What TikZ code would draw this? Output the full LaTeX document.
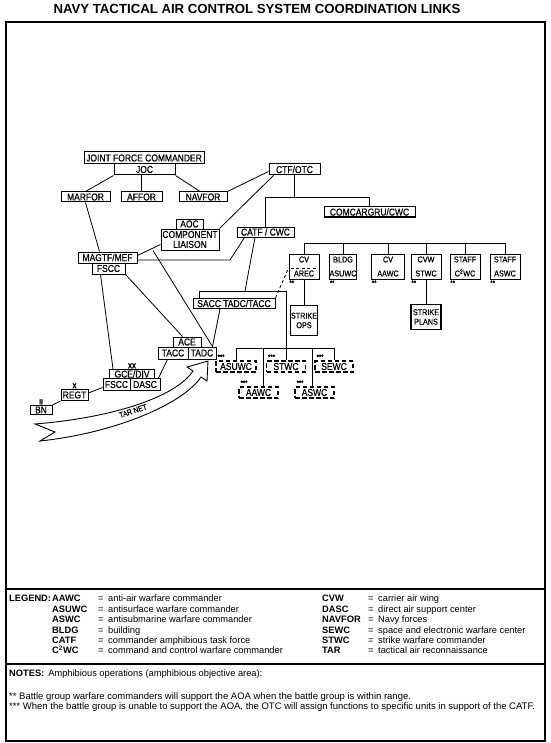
\documentclass[tikz,border=0pt]{standalone}
\usepackage{fontspec}
\setmainfont{Liberation Sans}
\newfontfamily\boxfont[FakeStretch=0.85,FakeBold=0.6]{Liberation Sans}
\usetikzlibrary{positioning}
\newcommand*{\legrow}[3][46pt]{\makebox[#1][l]{\bfseries #2}\makebox[10pt][l]{=}#3}

\begin{document}
\begin{tikzpicture}[x=1pt,y=-1pt,%
  % common options for the unit boxes:
  unitbox/.style = {draw, line width=1pt, fill=white, inner sep=0, align=center,
              font=\boxfont\fontsize{10}{10}\selectfont},
  % two-line boxes of the battle group:
  bgbox/.style = {unitbox, minimum width=30pt, minimum height=25pt,
              font=\boxfont\fontsize{8.5}{12}\selectfont},
  % units assigned only when the battle group cannot support:
  tempbox/.style = {unitbox, dash pattern=on 4.5pt off 2.5pt, line width=1.2pt,
              minimum height=11pt},
  link/.style = {line width=0.8pt},
  outerframe/.style = {line width=1.2pt},
  starmark/.style = {inner sep=0, font=\boxfont\fontsize{7}{7}\selectfont},
  echelon/.style = {inner sep=0.5pt, font=\boxfont\bfseries\fontsize{7}{7}\selectfont},
  legendtext/.style = {inner sep=0, align=left, font=\fontsize{9.3}{10.4}\selectfont}]

\useasboundingbox (0,0) rectangle (550,743);

% title and the frame round diagram, legend and notes
\node[font=\bfseries\fontsize{13.2}{15}\selectfont] (title) at (257,9)
  {NAVY TACTICAL AIR CONTROL SYSTEM COORDINATION LINKS};
\draw[outerframe] (6,22) rectangle (545,741);
\draw[outerframe] (6,589) -- (545,589);
\draw[outerframe] (6,664) -- (545,664);

% joint force level
\node[unitbox,minimum width=120pt,minimum height=12pt] (jfc) at (144,158) {JOINT FORCE COMMANDER};
\node[unitbox,minimum width=61pt,minimum height=11pt] (joc) at (144.5,169.5) {JOC};
\node[unitbox,minimum width=49pt,minimum height=10pt] (marfor) at (85.5,197) {MARFOR};
\node[unitbox,minimum width=41pt,minimum height=10pt] (affor) at (141.5,197) {AFFOR};
\node[unitbox,minimum width=48pt,minimum height=10pt] (navfor) at (203,197) {NAVFOR};

% navy side
\node[unitbox,minimum width=51pt,minimum height=11pt] (ctf) at (294.5,169.5) {CTF/OTC};
\node[unitbox,minimum width=91pt,minimum height=10pt] (comcar) at (369.5,212) {COMCARGRU/CWC};
\node[unitbox,minimum width=57pt,minimum height=10pt] (catf) at (265.5,232) {CATF / CWC};
\node[unitbox,minimum width=27pt,minimum height=10pt] (aoc) at (189.5,224) {AOC};
\node[unitbox,minimum width=58pt,minimum height=21pt] (liaison) at (190,239.5) {COMPONENT\\LIAISON};

% marine side
\node[unitbox,minimum width=59pt,minimum height=11pt] (magtf) at (107.5,257.5) {MAGTF/MEF};
\node[unitbox,minimum width=33pt,minimum height=11pt] (fscca) at (108.5,268.5) {FSCC};
\node[unitbox,minimum width=82pt,minimum height=10pt] (sacc) at (234,303.5) {SACC TADC/TACC};
\node[unitbox,minimum width=28pt,minimum height=10pt] (ace) at (187,342) {ACE};
\node[unitbox,minimum width=30pt,minimum height=12pt] (tacc) at (173,353) {TACC};
\node[unitbox,minimum width=28pt,minimum height=12pt] (tadc) at (202,353) {TADC};
\node[unitbox,minimum width=45pt,minimum height=9pt] (gce) at (132,374) {GCE/DIV};
\node[unitbox,minimum width=27pt,minimum height=12pt] (fsccb) at (116.5,384.5) {FSCC};
\node[unitbox,minimum width=30pt,minimum height=12pt] (dasc) at (145,384.5) {DASC};
\node[unitbox,minimum width=27pt,minimum height=11pt] (regt) at (74.5,395) {REGT};
\node[unitbox,minimum width=22pt,minimum height=9pt] (bn) at (41,410) {BN};
\node[echelon,above=0pt of gce] (gcemark) {XX};
\node[echelon,above=0pt of regt] (regtmark) {X};
\node[echelon,above=0pt of bn] (bnmark) {II};

% battle group warfare commanders
\node[bgbox] (cvarec) at (304,266.5) {CV\\[2pt]AREC};
\node[bgbox,minimum width=27pt] (bldg) at (343,266.5) {BLDG\\[2pt]ASUWC};
\node[bgbox,minimum width=33pt] (cvaawc) at (388,266.5) {CV\\[2pt]AAWC};
\node[bgbox] (cvw) at (426,266.5) {CVW\\[2pt]STWC};
\node[bgbox] (staffc) at (465,266.5) {STAFF\\[2pt]C\textsuperscript{2}WC};
\node[bgbox] (staffa) at (505,266.5) {STAFF\\[2pt]ASWC};
\node[bgbox,minimum width=27pt,minimum height=30pt,line width=1.3pt,
  font=\boxfont\fontsize{8.5}{9.5}\selectfont] (strikeops) at (304,320.5) {STRIKE\\OPS};
\node[bgbox,minimum width=30pt,minimum height=25pt,line width=1.3pt,
  font=\boxfont\fontsize{8.5}{9.5}\selectfont] (strikeplans) at (426,317) {STRIKE\\PLANS};
\node[starmark,below right=1pt of cvarec.south west] (s1) {**};
\node[starmark,below right=1pt of bldg.south west] (s2) {**};
\node[starmark,below right=1pt of cvaawc.south west] (s3) {**};
\node[starmark,below right=1pt of cvw.south west] (s4) {**};
\node[starmark,below right=1pt of staffc.south west] (s5) {**};
\node[starmark,below right=1pt of staffa.south west] (s6) {**};

% units assigned by the OTC
\node[tempbox,minimum width=40pt] (asuwc) at (236,366.5) {ASUWC};
\node[tempbox,minimum width=39pt] (stwc) at (286,366.5) {STWC};
\node[tempbox,minimum width=38pt] (sewc) at (334,366.5) {SEWC};
\node[tempbox,minimum width=39pt] (aawc) at (258.5,392.5) {AAWC};
\node[tempbox,minimum width=39pt] (aswc) at (314.5,392.5) {ASWC};
\node[starmark,above right=1pt and 2pt of asuwc.north west] (t1) {***};
\node[starmark,above right=1pt and 2pt of stwc.north west] (t2) {***};
\node[starmark,above right=1pt and 2pt of sewc.north west] (t3) {***};
\node[starmark,above right=1pt and 2pt of aawc.north west] (t4) {***};
\node[starmark,above right=1pt and 2pt of aswc.north west] (t5) {***};

% joint force links
\draw[link] (joc.south west) -- (marfor.north);
\draw[link] (joc.south -| affor.north) -- (affor.north);
\draw[link] (joc.south east) -- ([xshift=-3pt]navfor.north);
\draw[link] (navfor.north east) -- ([yshift=-2pt]ctf.west);
\draw[link] ([xshift=5pt]ctf.south west) -- (liaison.north east);

% CTF/OTC down to CATF and COMCARGRU
\coordinate (tbus) at (294.5,197);
\draw[link] (ctf.south) -- (tbus);
\draw[link] (catf.north) -- (catf.north |- tbus) -- (comcar.north |- tbus) -- (comcar.north);

% battle group bus
\coordinate (cvbus) at (305,243);
\draw[link] (cvarec.north |- cvbus) -- (staffa.north |- cvbus);
\draw[link] (cvarec.north) -- (cvarec.north |- cvbus);
\draw[link] (bldg.north) -- (bldg.north |- cvbus);
\draw[link] (cvaawc.north) -- (cvaawc.north |- cvbus);
\draw[link] (cvw.north) -- (cvw.north |- cvbus);
\draw[link] (staffc.north) -- (staffc.north |- cvbus);
\draw[link] (staffa.north) -- (staffa.north |- cvbus);
\draw[link] (cvarec.south) -- (strikeops.north);
\draw[link] (cvw.south) -- (strikeplans.north);
\draw[link,dash pattern=on 3pt off 2.5pt] ([xshift=2pt,yshift=-1.5pt]cvarec.west) -- ([xshift=-2pt,yshift=-1.5pt]cvarec.east);

% marine links
\coordinate (mbend) at (230,260);
\draw[link] (marfor.south) -- ([xshift=-8pt]magtf.north);
\draw[link] ([yshift=2pt]magtf.east) -- ([yshift=-5pt]liaison.west);
\draw[link] ([yshift=-2.5pt]magtf.east) -- (mbend) -- ([xshift=8pt]catf.south west);
\draw[link] ([xshift=-37pt]liaison.south) -- ([xshift=-4pt]tadc.north east);
\draw[link] ([xshift=-14pt]sacc.south) -- ([xshift=-4pt]tadc.north east);
\draw[link] (fscca.south east) -- ([xshift=10pt]ace.north west);
\draw[link] ([xshift=-8pt]fscca.south) -- ([xshift=4pt]gce.north west);
\draw[link] ([xshift=-2pt]dasc.north east) -- ([xshift=10pt]tacc.south west);
\draw[link] ([yshift=2pt]regt.east) -- ([yshift=-3pt]fsccb.west);
\draw[link] (bn.north east) -- (regt.south west);

% SACC bar down to the assigned units
\coordinate (sbar) at (286,291);
\coordinate (cjoin) at (245,291);
\coordinate (dbus) at (286,348);
\draw[link] ([xshift=-10.5pt]catf.south) -- (cjoin);
\draw[link] ([xshift=7pt]sacc.north west) |- (sbar) -- (stwc.north);
\draw[link] (asuwc.north) |- (dbus) -| (sewc.north);
\draw[link] ([xshift=4.5pt]aawc.north) |- (dbus);
\draw[link] ([xshift=-2.5pt]aswc.north) |- (dbus);
\draw[link,dash pattern=on 3pt off 2.5pt] (sacc.north east) -- ([yshift=-1.5pt]cvarec.west);

% TAR NET arrow
\draw[line width=0.9pt,fill=white] (35,424) .. controls (110,418) and (175,398) .. (193,371)
  -- (187,367) -- (208,361) -- (207,381) -- (201,377)
  .. controls (183,404) and (115,433) .. (40,441) -- (55,432) -- cycle;
\node[rotate=18,inner sep=0,font=\boxfont\fontsize{8}{8}\selectfont] (tarnet) at (133,411) {TAR NET};

% legend
\node[legendtext,anchor=north west] (legtitle) at (9,595) {\bfseries LEGEND:};
\node[legendtext,anchor=north west] (legleft) at (52,595) {%
  \legrow{AAWC}{anti-air warfare commander}\\
  \legrow{ASUWC}{antisurface warfare commander}\\
  \legrow{ASWC}{antisubmarine warfare commander}\\
  \legrow{BLDG}{building}\\
  \legrow{CATF}{commander amphibious task force}\\
  \legrow{C\textsuperscript{2}WC}{command and control warfare commander}};
\node[legendtext,anchor=north west] (legright) at (322,595) {%
  \legrow{CVW}{carrier air wing}\\
  \legrow{DASC}{direct air support center}\\
  \legrow{NAVFOR}{Navy forces}\\
  \legrow{SEWC}{space and electronic warfare center}\\
  \legrow{STWC}{strike warfare commander}\\
  \legrow{TAR}{tactical air reconnaissance}};

% notes
\node[legendtext,anchor=north west] (notes) at (9,670)
  {\textbf{NOTES:}\hspace{4pt}Amphibious operations (amphibious objective area):};
\node[legendtext,anchor=north west,font=\fontsize{9.5}{10.8}\selectfont] (notelist) at (9,692) {%
  ** Battle group warfare commanders will support the AOA when the battle group is within range.\\
  *** When the battle group is unable to support the AOA, the OTC will assign functions to specific units in support of the CATF.};
\end{tikzpicture}
\end{document}
